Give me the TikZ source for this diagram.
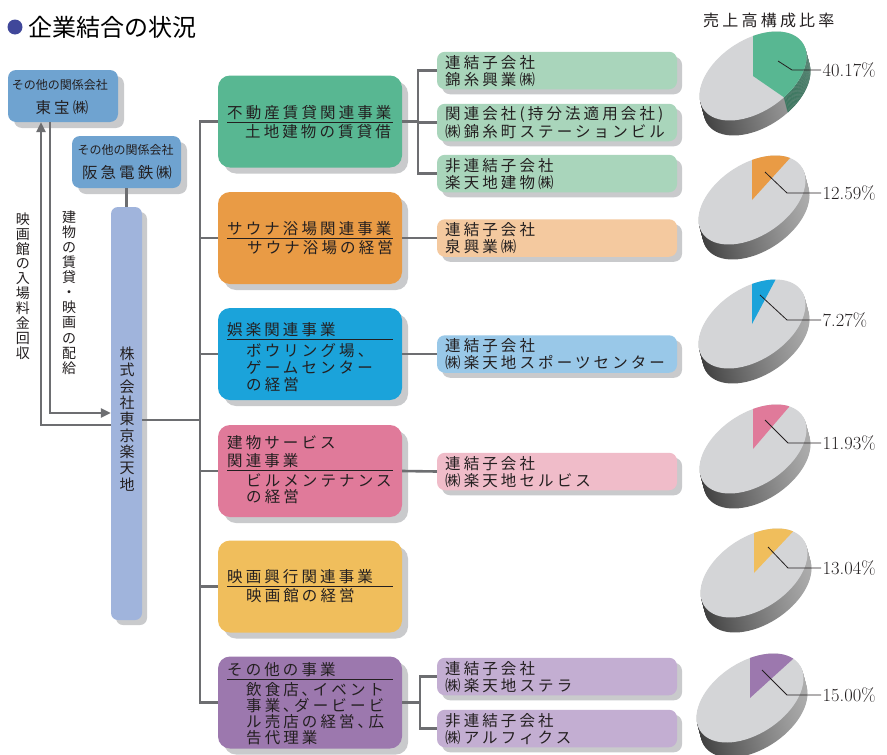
\documentclass[tikz,border=0pt]{standalone}
\usepackage{fontspec}
\newfontfamily\jp{Noto Sans CJK JP}
\newfontfamily\jpw{Noto Sans CJK JP}[LetterSpace=20]
\usetikzlibrary{arrows.meta,shadows}
\definecolor{linec}{HTML}{6D6E71}
\definecolor{shadowc}{HTML}{C9CACC}
\definecolor{relc}{HTML}{6FA3D0}
\definecolor{mainc}{HTML}{A0B4DC}
\definecolor{c1}{HTML}{58B792}\definecolor{s1}{HTML}{A9D5BB}
\definecolor{c2}{HTML}{E99B45}\definecolor{s2}{HTML}{F4C99F}
\definecolor{c3}{HTML}{1BA3DA}\definecolor{s3}{HTML}{99C8E8}
\definecolor{c4}{HTML}{E07A9A}\definecolor{s4}{HTML}{F0BCC9}
\definecolor{c5}{HTML}{F0BE5C}
\definecolor{c6}{HTML}{9C78AE}\definecolor{s6}{HTML}{C3AED2}
\definecolor{piegray}{HTML}{D4D5D7}
\definecolor{sidedark}{HTML}{3E3E3E}
\definecolor{sidelight}{HTML}{ADADAD}
\definecolor{txtc}{HTML}{231F20}
\definecolor{bulletc}{HTML}{40479A}
\tikzset{
  shad/.style={general shadow={fill=shadowc, shadow xshift=#1, shadow yshift=-#1}},
  catbox/.style={rectangle, rounded corners=12pt, fill=#1, minimum width=184pt, minimum height=92pt, inner sep=0pt, shad=6pt},
  subbox/.style={rectangle, rounded corners=8pt, fill=#1, minimum width=240pt, minimum height=37.5pt, inner sep=0pt, shad=5pt},
  relbox/.style={rectangle, rounded corners=8pt, fill=relc, minimum width=#1, minimum height=52pt, inner sep=0pt, shad=6pt},
  jt/.style={anchor=west, inner sep=0pt, text=txtc, font=\jpw\fontsize{15.5}{18}\selectfont},
  jtc/.style={anchor=center, inner sep=0pt, text=txtc},
  vt/.style={align=center, inner sep=0pt, text=txtc},
  uline/.style={line width=0.9pt, txtc},
  conn/.style={line width=2.6pt, linec},
  arr/.style={-{Triangle[length=10pt,width=9pt]}},
  leader/.style={line width=0.8pt, txtc},
  plabel/.style={anchor=west, inner sep=1.5pt, text=txtc, font=\fontsize{18.5}{20}\selectfont},
}
\newcommand{\drawpie}[4]{%
  \foreach \k in {15,14,...,1}{
    \shade[left color=sidedark, right color=sidelight, shift={({4*\k/15},{\k})}]
      plot[domain=0:360,samples=73] ({#1+53.5*cos(\x)},{#2-19.5*cos(\x)-40*sin(\x)}) -- cycle;
    \fill[#4!65!black, shift={({4*\k/15},{\k})}] (#1,#2) --
      plot[domain=90:#3,samples=40] ({#1+53.5*cos(\x)},{#2-19.5*cos(\x)-40*sin(\x)}) -- cycle;
  }
  \fill[piegray] plot[domain=0:360,samples=73] ({#1+53.5*cos(\x)},{#2-19.5*cos(\x)-40*sin(\x)}) -- cycle;
  \fill[#4] (#1,#2) -- plot[domain=90:#3,samples=40] ({#1+53.5*cos(\x)},{#2-19.5*cos(\x)-40*sin(\x)}) -- cycle;
}
\begin{document}
\begin{tikzpicture}[x=1pt,y=-1pt]
\useasboundingbox (0,0) rectangle (887,755);
\fill[white] (0,0) rectangle (887,755);

% title
\node[circle, fill=bulletc, minimum size=15pt, inner sep=0pt] (bullet) at (15,27) {};
\node[anchor=west, inner sep=0pt, text=black, font=\jp\fontsize{24}{28}\selectfont] (title) at (28,27) {企業結合の状況};
\node[jt, font=\jpw\fontsize{16}{18}\selectfont] (salestitle) at (703,20) {売上高構成比率};

% related companies
\node[relbox=110pt] (toho) at (63,96) {};
\node[jtc, font=\jp\fontsize{12}{14}\selectfont] (toho1) at (60,85) {その他の関係会社};
\node[jtc, font=\jpw\fontsize{15.5}{18}\selectfont] (toho2) at (62,108) {東宝㈱};
\node[relbox=109pt] (hankyu) at (126.5,162) {};
\node[jtc, font=\jp\fontsize{12}{14}\selectfont] (hankyu1) at (125.5,150) {その他の関係会社};
\node[jtc, font=\jpw\fontsize{15.5}{18}\selectfont] (hankyu2) at (127,173) {阪急電鉄㈱};

% main company
\node[rectangle, rounded corners=7pt, fill=mainc, minimum width=31pt, minimum height=413pt, inner sep=0pt, shad=5pt] (main) at (126.5,413.5) {};
\node[vt, font=\jp\fontsize{15}{16.3}\selectfont] (maintext) at (127,419) {株\\式\\会\\社\\東\\京\\楽\\天\\地};

% vertical labels
\node[vt, font=\jp\fontsize{14}{14.9}\selectfont] (lab1) at (23,286) {映\\画\\館\\の\\入\\場\\料\\金\\回\\収};
\node[vt, font=\jp\fontsize{14}{15.1}\selectfont] (lab2) at (69,292.5) {建\\物\\の\\賃\\貸\\・\\映\\画\\の\\配\\給};

% category boxes
\node[catbox=c1] (cat1) at (310,121.5) {};
\node[catbox=c2] (cat2) at (310,238) {};
\node[catbox=c3] (cat3) at (310,354) {};
\node[catbox=c4] (cat4) at (310,471) {};
\node[catbox=c5] (cat5) at (310,586.5) {};
\node[catbox=c6] (cat6) at (310,702.5) {};

\node[jt] (t11) at (227,113) {不動産賃貸関連事業};
\draw[uline] (227,122) -- (393,122);
\node[jt] (t12) at (245,132) {土地建物の賃貸借};

\node[jt] (t21) at (227,229) {サウナ浴場関連事業};
\draw[uline] (227,238) -- (393,238);
\node[jt] (t22) at (247,248) {サウナ浴場の経営};

\node[jt] (t31) at (227,330) {娯楽関連事業};
\draw[uline] (227,339) -- (393,339);
\node[jt] (t32) at (246,351) {ボウリング場、};
\node[jt] (t33) at (246,368) {ゲームセンター};
\node[jt] (t34) at (246,385) {の経営};

\node[jt] (t41) at (227,443) {建物サービス};
\node[jt] (t42) at (227,461) {関連事業};
\draw[uline] (227,470) -- (393,470);
\node[jt] (t43) at (246,480) {ビルメンテナンス};
\node[jt] (t44) at (246,497) {の経営};

\node[jt] (t51) at (227,577) {映画興行関連事業};
\draw[uline] (227,586) -- (393,586);
\node[jt] (t52) at (246,596) {映画館の経営};

\node[jt] (t61) at (227,670) {その他の事業};
\draw[uline] (227,679) -- (393,679);
\node[jt] (t62) at (246,690) {飲食店､イベント};
\node[jt] (t63) at (246,706) {事業､ダービービ};
\node[jt] (t64) at (246,722) {ル売店の経営､広};
\node[jt] (t65) at (246,738) {告代理業};

% subsidiary boxes
\node[subbox=s1] (s11) at (557,70.5) {};
\node[jt] at (445,62.5) {連結子会社};
\node[jt] at (445,79.5) {錦糸興業㈱};
\node[subbox=s1] (s12) at (557,122.5) {};
\node[jt] at (445,114.5) {関連会社(持分法適用会社)};
\node[jt] at (445,131.5) {㈱錦糸町ステーションビル};
\node[subbox=s1] (s13) at (557,173.5) {};
\node[jt] at (445,165.5) {非連結子会社};
\node[jt] at (445,182.5) {楽天地建物㈱};
\node[subbox=s2] (s2) at (557,238) {};
\node[jt] at (445,230) {連結子会社};
\node[jt] at (445,247) {泉興業㈱};
\node[subbox=s3] (s3) at (557,354) {};
\node[jt] at (445,346) {連結子会社};
\node[jt] at (445,363) {㈱楽天地スポーツセンター};
\node[subbox=s4] (s4) at (557,471.5) {};
\node[jt] at (445,463.5) {連結子会社};
\node[jt] at (445,480.5) {㈱楽天地セルビス};
\node[subbox=s6] (s61) at (557,676.5) {};
\node[jt] at (445,668.5) {連結子会社};
\node[jt] at (445,685.5) {㈱楽天地ステラ};
\node[subbox=s6] (s62) at (557,728.5) {};
\node[jt] at (445,720.5) {非連結子会社};
\node[jt] at (445,737.5) {㈱アルフィクス};

% connectors
\coordinate (trunk) at (200,0);
\coordinate (mainlink) at (200,420);
\coordinate (bus1) at (418,0);
\coordinate (bus6) at (420,0);
\draw[conn] (main.east |- mainlink) -- (mainlink);
\draw[conn] (cat1.west) -- (cat1.west -| trunk) -- (cat6.west -| trunk) -- (cat6.west);
\foreach \c in {cat2,cat3,cat4,cat5}{\draw[conn] (\c.west) -- (\c.west -| trunk);}
\draw[conn] (cat1.east) -- (cat1.east -| bus1);
\draw[conn] (s11.west) -- (s11.west -| bus1) |- (s13.west);
\draw[conn] (s12.west) -- (s12.west -| bus1);
\draw[conn] (cat2.east) -- (s2.west);
\draw[conn] (cat3.east) -- (s3.west);
\draw[conn] (cat4.east) -- (s4.west);
\draw[conn] (cat6.east) -- (cat6.east -| bus6);
\draw[conn] (s61.west) -- (s61.west -| bus6) |- (s62.west);
\draw[conn] (hankyu.south) -- (main.north);
\coordinate (lx1) at (50,413);
\coordinate (lx2) at (41,425);
\draw[conn, arr] (toho.south -| lx1) -- (lx1) -- (main.west |- lx1);
\draw[conn, arr] (main.west |- lx2) -- (lx2) -- (lx2 |- toho.south);

% pies
\drawpie{753}{76}{-54.61}{c1}
\drawpie{752}{200}{44.68}{c2}
\drawpie{752}{324}{63.83}{c3}
\drawpie{753}{449}{47.05}{c4}
\drawpie{754}{573}{43.06}{c5}
\drawpie{750}{698}{36}{c6}

\node[plabel] (p1l) at (821,70) {40.17\%};
\node[plabel] (p2l) at (821,193) {12.59\%};
\node[plabel] (p3l) at (821,320) {7.27\%};
\node[plabel] (p4l) at (821,443) {11.93\%};
\node[plabel] (p5l) at (821,568) {13.04\%};
\node[plabel] (p6l) at (821,695) {15.00\%};
\coordinate (p1a) at (778,61); \coordinate (p1b) at (792,70);
\coordinate (p2a) at (765,172); \coordinate (p2b) at (787,193);
\coordinate (p3a) at (760,295); \coordinate (p3b) at (787,320);
\coordinate (p4a) at (765,420); \coordinate (p4b) at (788,443);
\coordinate (p5a) at (768,547); \coordinate (p5b) at (788,568);
\coordinate (p6a) at (762,670); \coordinate (p6b) at (787,695);
\foreach \i in {1,...,6}{\draw[leader] (p\i a) -- (p\i b) -- (p\i l.west);}
\end{tikzpicture}
\end{document}
